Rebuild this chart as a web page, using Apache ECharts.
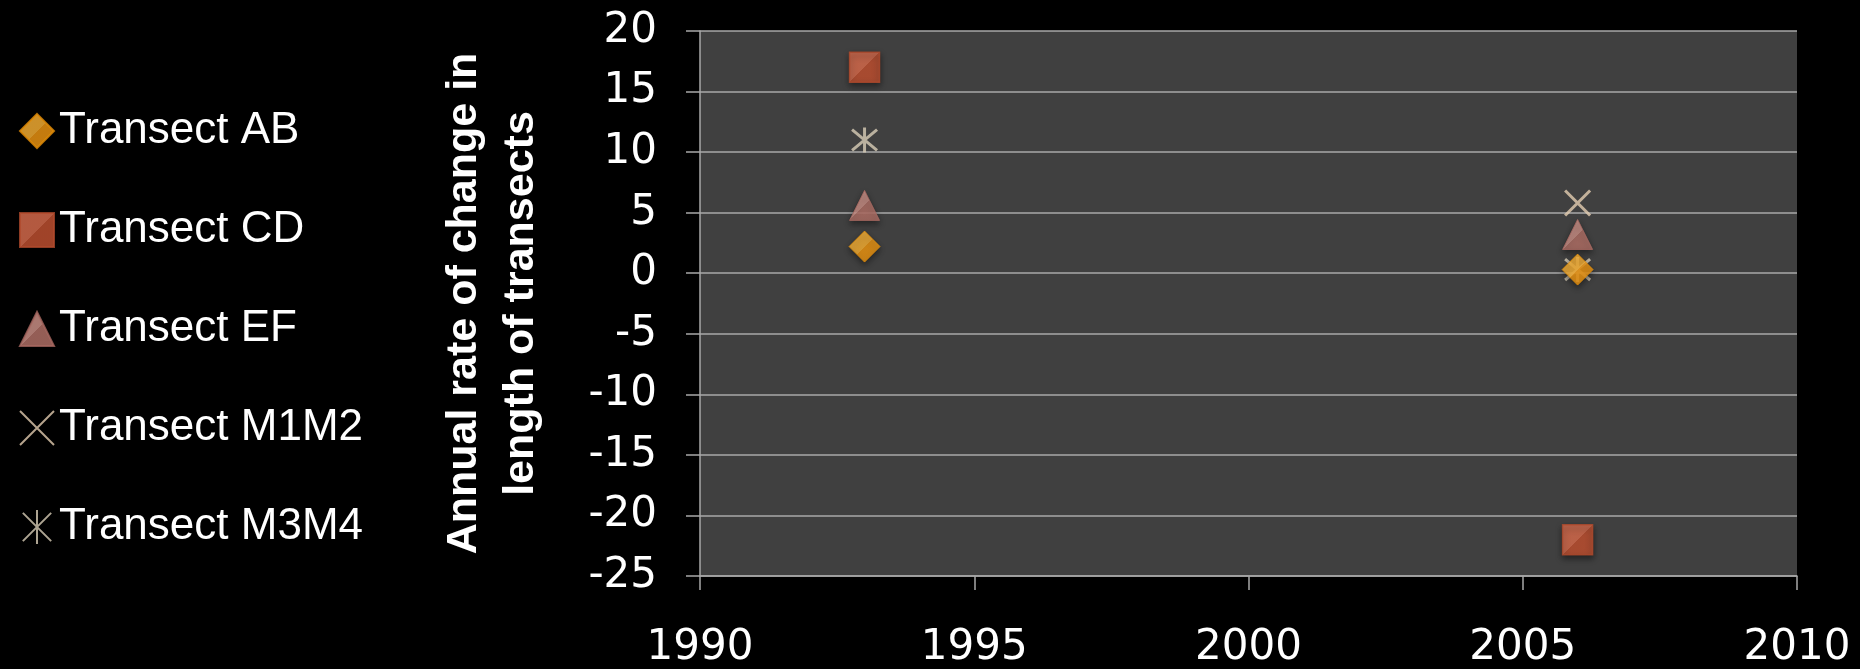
<!DOCTYPE html>
<html>
<head>
<meta charset="utf-8">
<script src="https://cdn.jsdelivr.net/npm/echarts@6/dist/echarts.min.js"></script>
<style>
  html, body { margin: 0; padding: 0; background: #000; }
  #chart { width: 1860px; height: 669px; }
</style>
</head>
<body>
<div id="chart"></div>
<script>
// Survey years and annual rate of change in transect length
const years = [1993, 2006];
const transectAB = [2.2, 0.3];
const transectCD = [17, -22];
const transectEF = [5.6, 3.2];
const transectM1M2 = [null, 5.8];
const transectM3M4 = [11, 0.3];

const seriesNames = ['Transect AB', 'Transect CD', 'Transect EF', 'Transect M1M2', 'Transect M3M4'];
const yTicks = { min: -25, max: 20, step: 5 };
const xTicks = { min: 1990, max: 2010, step: 5 };
const yTitle = 'Annual rate of change in\nlength of transects';

function pairs(values) {
  const out = [];
  values.forEach((v, i) => { if (v !== null) out.push([years[i], v]); });
  return out;
}

const shadow = { shadowBlur: 6, shadowColor: 'rgba(0,0,0,0.55)', shadowOffsetY: 3 };
function grad(c1, c2) {
  return new echarts.graphic.LinearGradient(0, 0, 1, 1, [
    { offset: 0, color: c1 }, { offset: 0.5, color: c1 }, { offset: 0.5, color: c2 }, { offset: 1, color: c2 }
  ]);
}

const crossPath = 'path://M0,0L10,10M10,0L0,10';
const starPath = 'path://M0,0L10,10M10,0L0,10M5,-1L5,11';

const chart = echarts.init(document.getElementById('chart'), null, { renderer: 'canvas' });
chart.setOption({
  backgroundColor: '#000000',
  animation: false,
  grid: {
    left: 700, right: 63, top: 31, bottom: 93,
    show: true, backgroundColor: '#404040', borderWidth: 0
  },
  legend: {
    orient: 'vertical',
    left: 14, top: 102,
    itemWidth: 34, itemHeight: 34,
    itemGap: 51,
    data: seriesNames,
    textStyle: {
      color: '#ffffff', fontFamily: 'Liberation Sans, Arial, sans-serif',
      fontSize: 44, lineHeight: 48
    }
  },
  xAxis: {
    type: 'value',
    min: xTicks.min, max: xTicks.max, interval: xTicks.step,
    axisLine: { show: true, onZero: false, lineStyle: { color: '#a8a8a8', width: 1.5 } },
    axisTick: { show: true, length: 14, lineStyle: { color: '#a8a8a8', width: 1.5 } },
    splitLine: { show: false },
    axisLabel: {
      color: '#ffffff', fontFamily: 'DejaVu Sans, sans-serif', fontSize: 42, margin: 51,
      formatter: (v) => String(v)
    }
  },
  yAxis: {
    type: 'value',
    min: yTicks.min, max: yTicks.max, interval: yTicks.step,
    name: yTitle,
    nameLocation: 'middle',
    nameRotate: 90,
    nameGap: 150,
    nameTextStyle: {
      color: '#ffffff', fontFamily: 'Liberation Sans, Arial, sans-serif',
      fontWeight: 'bold', fontSize: 43, lineHeight: 57
    },
    axisLine: { show: true, lineStyle: { color: '#a8a8a8', width: 1.5 } },
    axisTick: { show: true, length: 14, lineStyle: { color: '#a8a8a8', width: 1.5 } },
    splitLine: { show: true, lineStyle: { color: '#a8a8a8', width: 1.5 } },
    axisLabel: {
      color: '#ffffff', fontFamily: 'DejaVu Sans, sans-serif', fontSize: 42, margin: 43
    }
  },
  series: [
    {
      name: seriesNames[0], type: 'scatter', z: 6,
      symbol: 'diamond', symbolSize: 31,
      data: pairs(transectAB),
      itemStyle: Object.assign({ color: grad('#ffb535', '#f59a12'), borderColor: '#e28c06', borderWidth: 1 }, shadow)
    },
    {
      name: seriesNames[1], type: 'scatter', z: 2,
      symbol: 'rect', symbolSize: 30,
      data: pairs(transectCD),
      itemStyle: Object.assign({ color: grad('#e07050', '#c85433'), borderColor: '#b04a2c', borderWidth: 1.5 }, shadow)
    },
    {
      name: seriesNames[2], type: 'scatter', z: 3,
      symbol: 'triangle', symbolSize: [30, 30],
      data: pairs(transectEF),
      itemStyle: Object.assign({ color: grad('#d4968c', '#b9756b'), borderColor: '#a86860', borderWidth: 1 }, shadow)
    },
    {
      name: seriesNames[3], type: 'scatter', z: 4,
      symbol: crossPath, symbolSize: 25,
      data: pairs(transectM1M2),
      itemStyle: { color: 'rgba(0,0,0,0)', borderColor: '#e3cdb0', borderWidth: 3 }
    },
    {
      name: seriesNames[4], type: 'scatter', z: 5,
      symbol: starPath, symbolSize: 25,
      data: pairs(transectM3M4),
      itemStyle: { color: 'rgba(0,0,0,0)', borderColor: '#d8cdb6', borderWidth: 3 }
    }
  ]
});
</script>
</body>
</html>
